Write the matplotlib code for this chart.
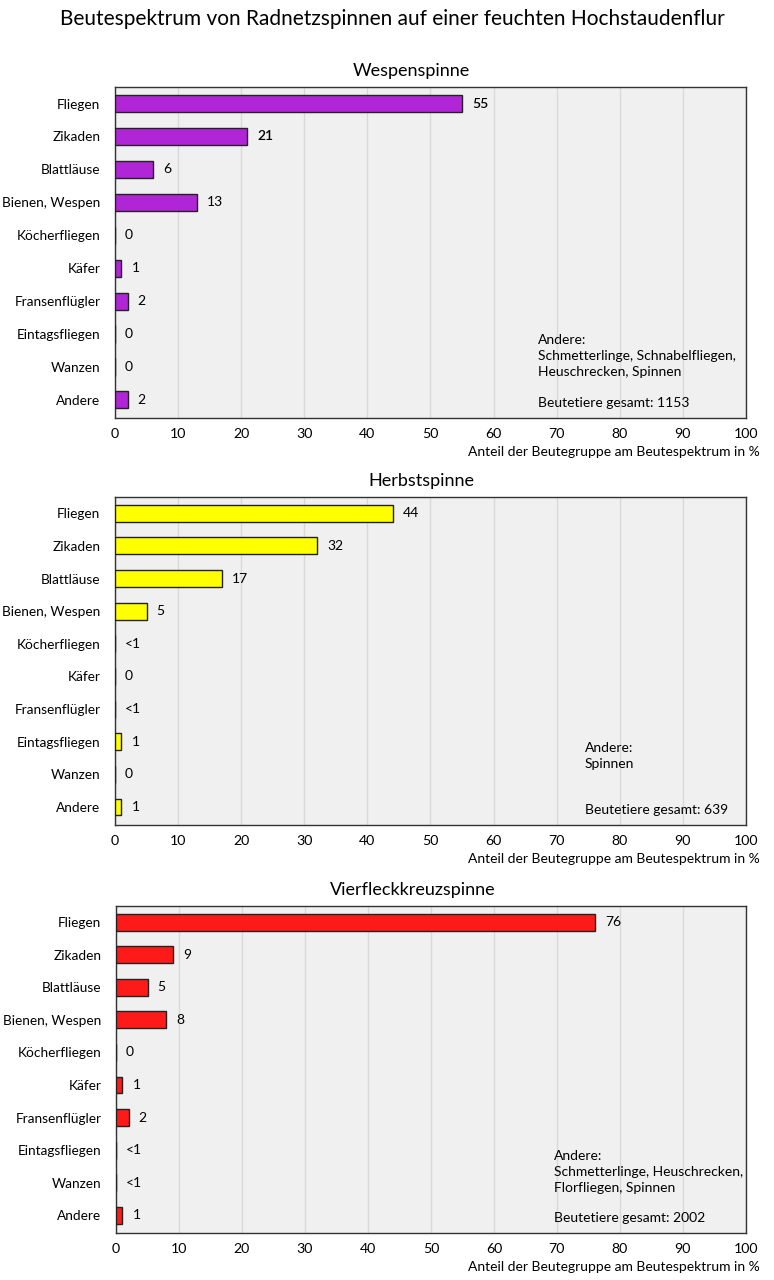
import matplotlib.pyplot as plt

plt.rcParams['font.family'] = ['Lato', 'DejaVu Sans']

kategorien = ['Fliegen', 'Zikaden', 'Blattläuse', 'Bienen, Wespen', 'Köcherfliegen',
              'Käfer', 'Fransenflügler', 'Eintagsfliegen', 'Wanzen', 'Andere']

# Wespenspinne
wespen_werte = [55, 21, 6, 13, 0, 1, 2, 0, 0, 2]
wespen_labels = ['55', '21', '6', '13', '0', '1', '2', '0', '0', '2']

# Herbstspinne
herbst_werte = [44, 32, 17, 5, 0, 0, 0, 1, 0, 1]
herbst_labels = ['44', '32', '17', '5', '<1', '0', '<1', '1', '0', '1']

# Vierfleckkreuzspinne
vierfleck_werte = [76, 9, 5, 8, 0, 1, 2, 0, 0, 1]
vierfleck_labels = ['76', '9', '5', '8', '0', '1', '2', '<1', '<1', '1']

x_ticks = [0, 10, 20, 30, 40, 50, 60, 70, 80, 90, 100]

# im Original sind einige Zahlen fett gesetzt
fett = {'Wespenspinne': [0, 1]}

panels = [
    ('Wespenspinne', wespen_werte, wespen_labels, '#b026d6',
     'Andere:\nSchmetterlinge, Schnabelfliegen,\nHeuschrecken, Spinnen', 'Beutetiere gesamt: 1153',
     67.0, 0.469, [0.1486, 0.6734, 0.815, 0.2586]),
    ('Herbstspinne', herbst_werte, herbst_labels, '#ffff00',
     'Andere:\nSpinnen', 'Beutetiere gesamt: 639',
     74.5, 0.485, [0.1486, 0.3555, 0.815, 0.2563]),
    ('Vierfleckkreuzspinne', vierfleck_werte, vierfleck_labels, '#ff1a1a',
     'Andere:\nSchmetterlinge, Heuschrecken,\nFlorfliegen, Spinnen', 'Beutetiere gesamt: 2002',
     69.5, 0.471, [0.1499, 0.0367, 0.8137, 0.2555]),
]

fig = plt.figure(figsize=(7.74, 12.8), dpi=100)
fig.text(0.507, 0.985, 'Beutespektrum von Radnetzspinnen auf einer feuchten Hochstaudenflur',
         ha='center', va='center', fontsize=15)

for titel, werte, labels, farbe, andere, gesamt, tx, titel_x, pos in panels:
    ax = fig.add_axes(pos)
    ax.set_facecolor('#f0f0f0')
    y = list(range(len(kategorien)))
    ax.barh(y, werte, height=0.52, color=farbe, edgecolor='#222222', linewidth=1, zorder=3)
    for i, (yi, w, lab) in enumerate(zip(y, werte, labels)):
        weight = 'semibold' if i in fett.get(titel, []) else 'normal'
        ax.text(w + 1.6, yi, lab, va='center', ha='left', fontsize=10,
                fontweight=weight, zorder=4)
    ax.set_yticks(y)
    ax.set_yticklabels(kategorien, fontsize=9.8)
    ax.set_xticks(x_ticks)
    ax.set_xticklabels([str(t) for t in x_ticks], fontsize=10.2)
    ax.set_xlim(0, 100)
    ax.set_ylim(9.55, -0.5)
    ax.tick_params(axis='y', length=0, pad=10.5)
    ax.tick_params(axis='x', length=0, pad=7)
    ax.grid(axis='x', color='#d9d9d9', linewidth=1, zorder=0)
    for s in ax.spines.values():
        s.set_color('#333333')
        s.set_linewidth(1)
    ax.set_title(titel, fontsize=13, pad=8, x=titel_x)
    ax.text(tx, 7.0, andere, va='top', ha='left', fontsize=10, linespacing=1.4)
    ax.text(tx, 9.1, gesamt, va='center', ha='left', fontsize=10)
    ax.set_xlabel('Anteil der Beutegruppe am Beutespektrum in %', fontsize=10, loc='right')
    ax.xaxis.set_label_coords(1.022, -0.085)

fig.savefig('out.png', dpi=100)
